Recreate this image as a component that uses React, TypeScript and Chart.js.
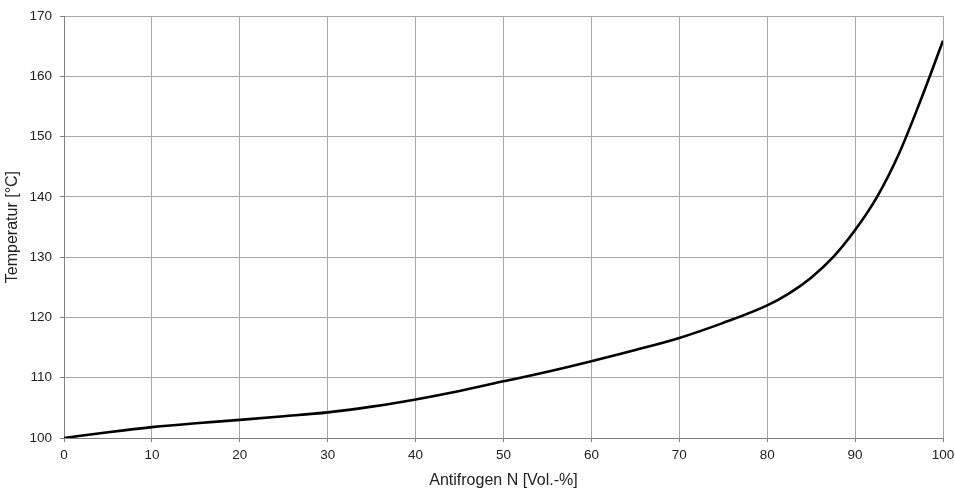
import React, { useEffect, useRef } from "react";
import { Chart, registerables } from "chart.js";

Chart.register(...registerables);

const concentration = [0, 5, 10, 15, 20, 25, 30, 35, 40, 45, 50, 55, 60, 65, 70, 75, 80, 82.5, 85, 87.5, 90, 92.5, 95, 97.5, 100];
const temperature = [100, 100.95, 101.8, 102.45, 103.0, 103.6, 104.25, 105.2, 106.4, 107.8, 109.4, 111.0, 112.75, 114.6, 116.6, 119.1, 122.0, 124.0, 126.6, 130.0, 134.5, 140.0, 147.2, 156.2, 165.9];

const xTitle = "Antifrogen N [Vol.-%]";
const yTitle = "Temperatur [°C]";
const xMin = 0, xMax = 100, xStep = 10;
const yMin = 100, yMax = 170, yStep = 10;

export default function App() {
  const ref = useRef<HTMLCanvasElement | null>(null);
  useEffect(() => {
    document.body.style.margin = "0";
    const ctx = ref.current!.getContext("2d")!;
    const font = "'Liberation Sans', Arial, sans-serif";
    const chart = new Chart(ctx, {
      type: "line",
      data: {
        datasets: [
          {
            data: concentration.map((x, i) => ({ x, y: temperature[i] })),
            borderColor: "#000",
            borderWidth: 2.6,
            pointRadius: 0,
            fill: false,
            cubicInterpolationMode: "monotone",
          },
        ],
      },
      options: {
        animation: false,
        responsive: false,
        maintainAspectRatio: false,
        layout: { padding: { top: 16, right: 12, left: 0, bottom: 0 } },
        plugins: { legend: { display: false }, tooltip: { enabled: false } },
        scales: {
          x: {
            type: "linear",
            min: xMin,
            max: xMax,
            ticks: { stepSize: xStep, color: "#222", padding: 5, font: { family: font, size: 13.5 }, maxRotation: 0 },
            grid: { color: "#a8a8a8", lineWidth: 1, tickLength: 4, tickColor: "#808080" },
            border: { color: "#808080", width: 1 },
            title: { display: true, text: xTitle, color: "#222", font: { family: font, size: 16 }, padding: { top: 4, bottom: 3 } },
            afterFit: (s: any) => { s.height = 55; s.paddingLeft = 0; s.paddingRight = 0; },
          },
          y: {
            type: "linear",
            min: yMin,
            max: yMax,
            ticks: { stepSize: yStep, color: "#222", padding: 8, font: { family: font, size: 13.5 } },
            grid: { color: "#a8a8a8", lineWidth: 1, tickLength: 4, tickColor: "#808080" },
            border: { color: "#808080", width: 1 },
            title: { display: true, text: yTitle, color: "#222", font: { family: font, size: 16 }, padding: { top: 3, bottom: 4 } },
            afterFit: (s: any) => { s.width = 64; },
          },
        },
      },
    });
    return () => chart.destroy();
  }, []);
  return (
    <div style={{ width: 955, height: 493, background: "#fff" }}>
      <canvas ref={ref} width={955} height={493} style={{ width: 955, height: 493, display: "block" }} />
    </div>
  );
}
